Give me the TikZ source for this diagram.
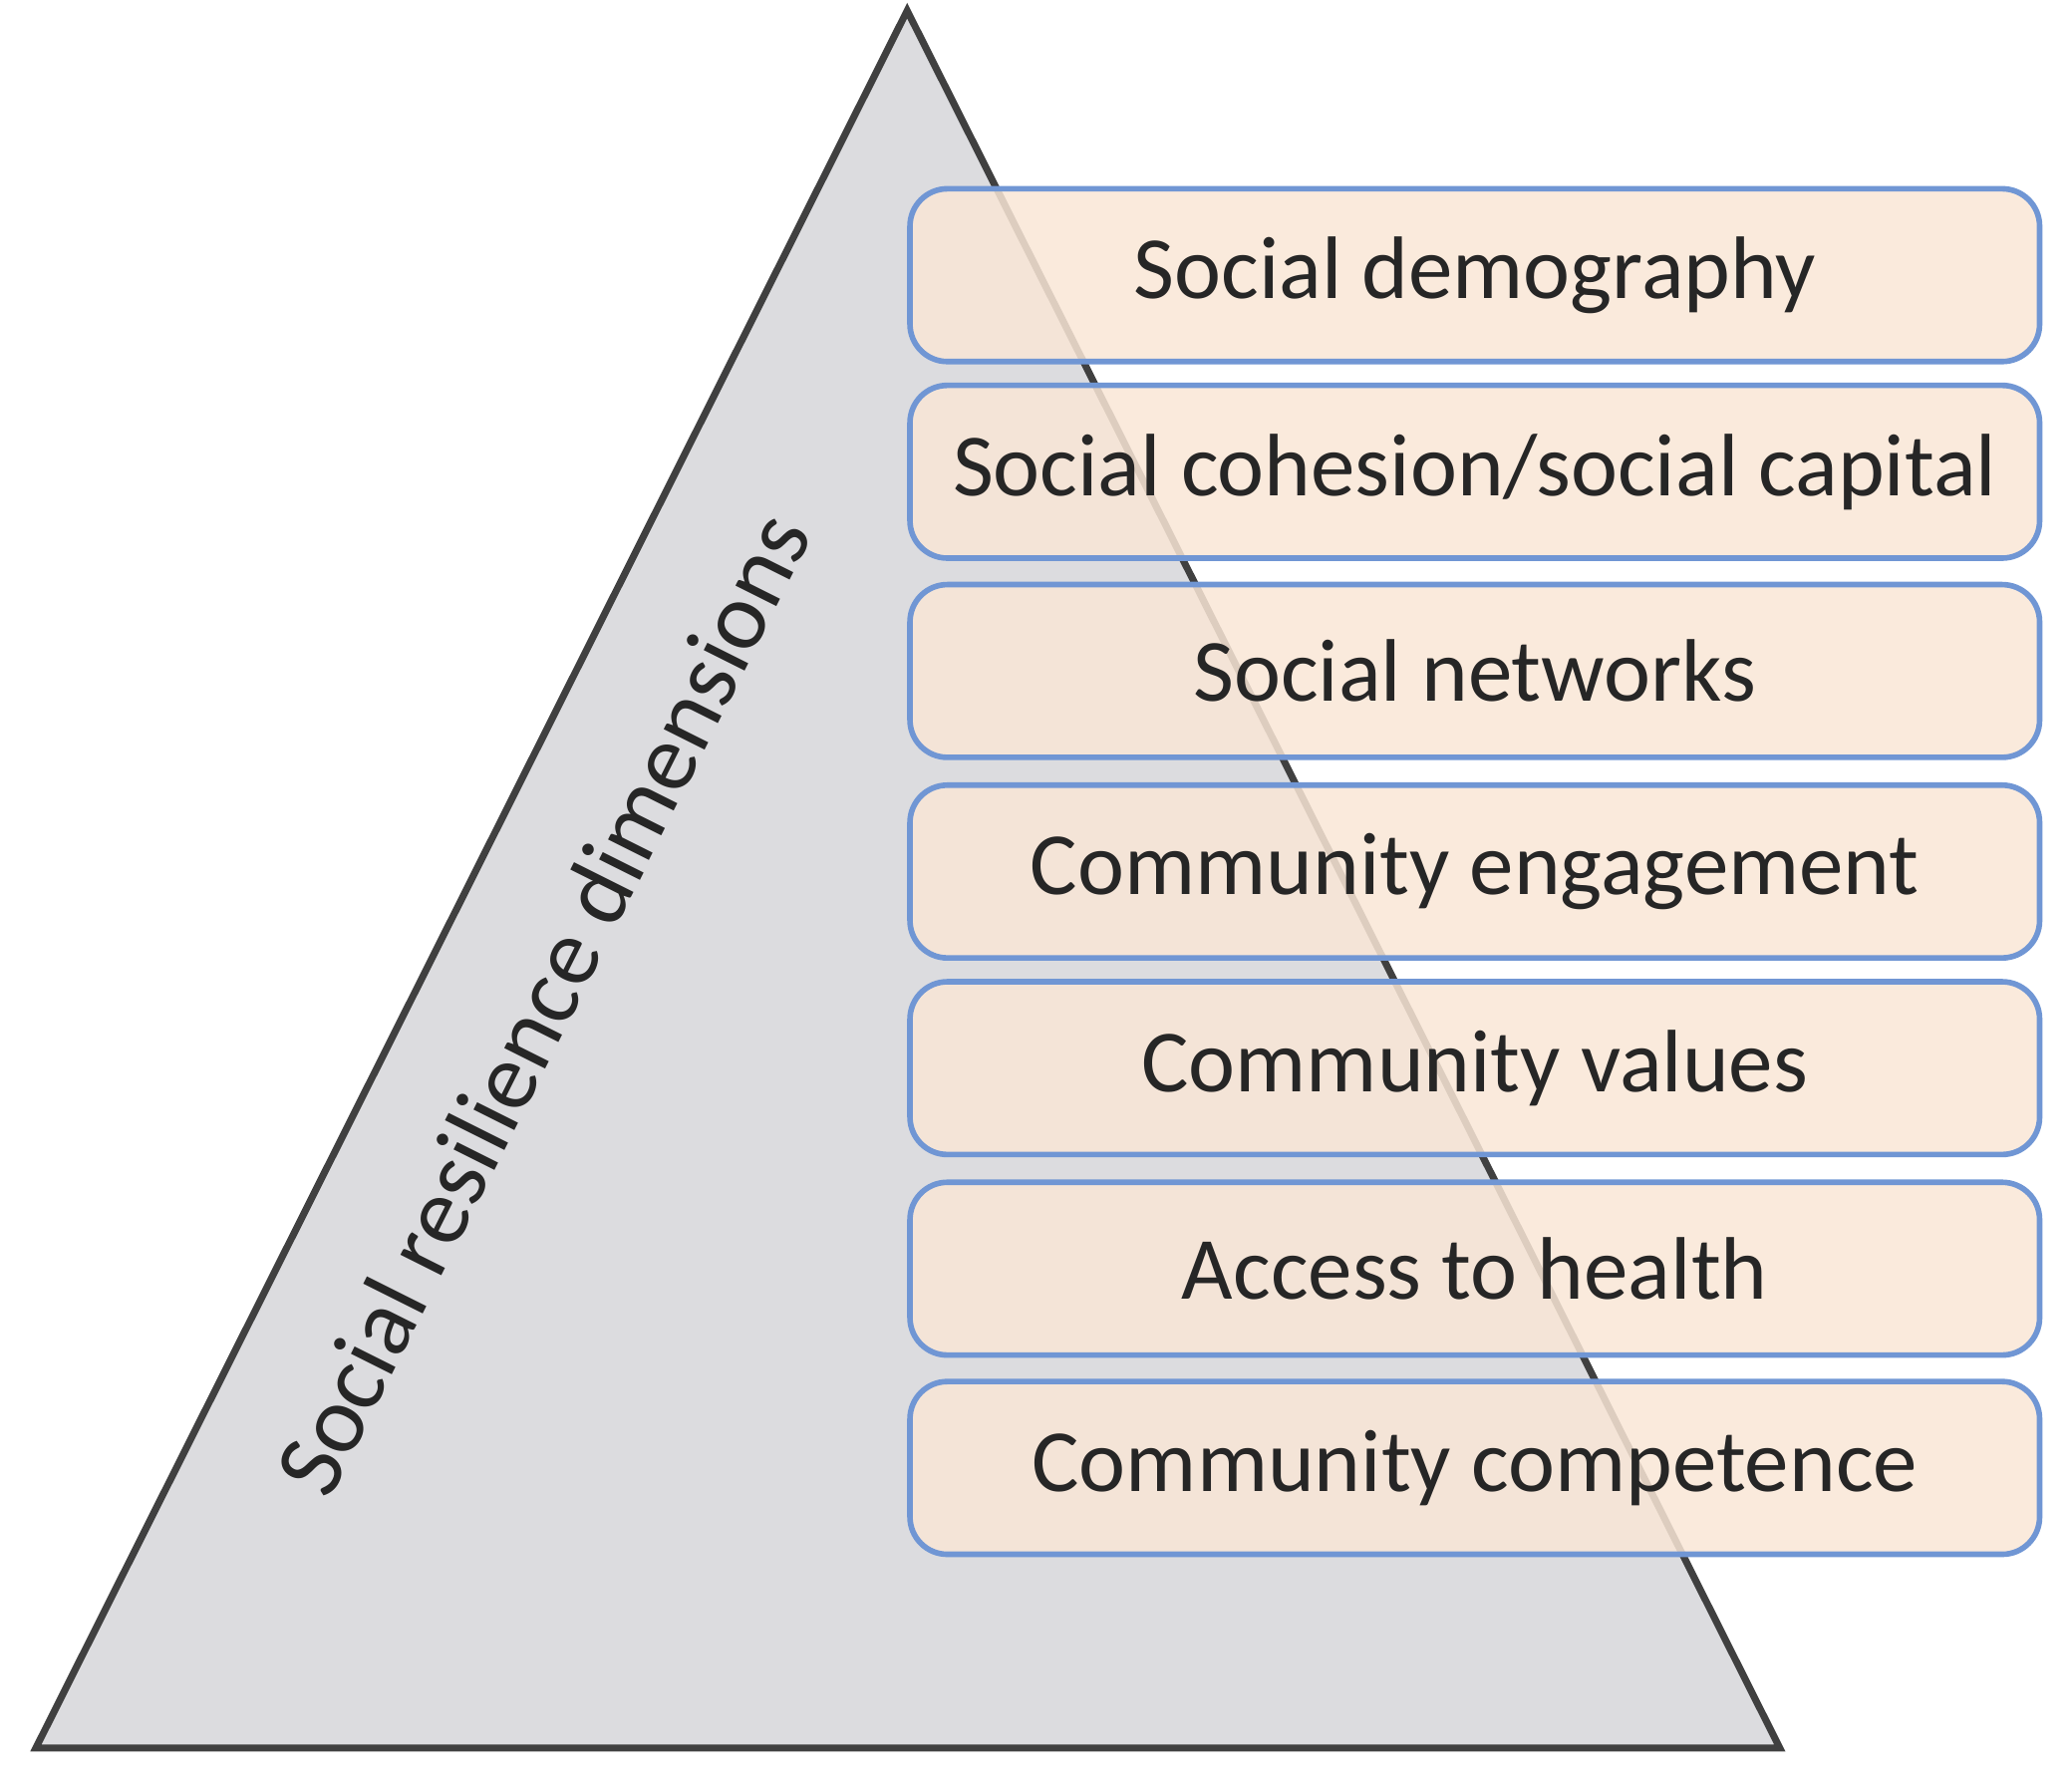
\documentclass[tikz,border=0pt]{standalone}
\usepackage{fontspec}
\setmainfont{Carlito}
\begin{document}
\begin{tikzpicture}[x=0.01cm,y=-0.01cm,
  dimbox/.style={draw=boxblue,line width=1.2pt,fill=peach,fill opacity=0.85,text opacity=1,rounded corners=8pt,minimum width=8.5cm,minimum height=1.3cm,anchor=north west,inner sep=0pt,font=\fontsize{19}{22}\selectfont,text=black!85}]
\definecolor{peach}{RGB}{249,230,214}
\definecolor{boxblue}{RGB}{112,150,212}
\definecolor{trigray}{RGB}{220,220,223}
\useasboundingbox (0,0) rectangle (1560,1347);
\draw[fill=trigray,draw=black!75,line width=1.5pt] (683,8) -- (1340,1316) -- (27,1316) -- cycle;
\node[rotate=63.4,font=\fontsize{20.5}{24}\selectfont,text=black!85] (lbl) at (408,755) {Social resilience dimensions};
\node[dimbox] (b1) at (683,140) {Social demography};
\node[dimbox] (b2) at (683,288) {Social cohesion/social capital};
\node[dimbox] (b3) at (683,438) {Social networks};
\node[dimbox] (b4) at (683,589) {Community engagement};
\node[dimbox] (b5) at (683,737) {Community values};
\node[dimbox] (b6) at (683,888) {Access to health};
\node[dimbox] (b7) at (683,1038) {Community competence};
\end{tikzpicture}
\end{document}
